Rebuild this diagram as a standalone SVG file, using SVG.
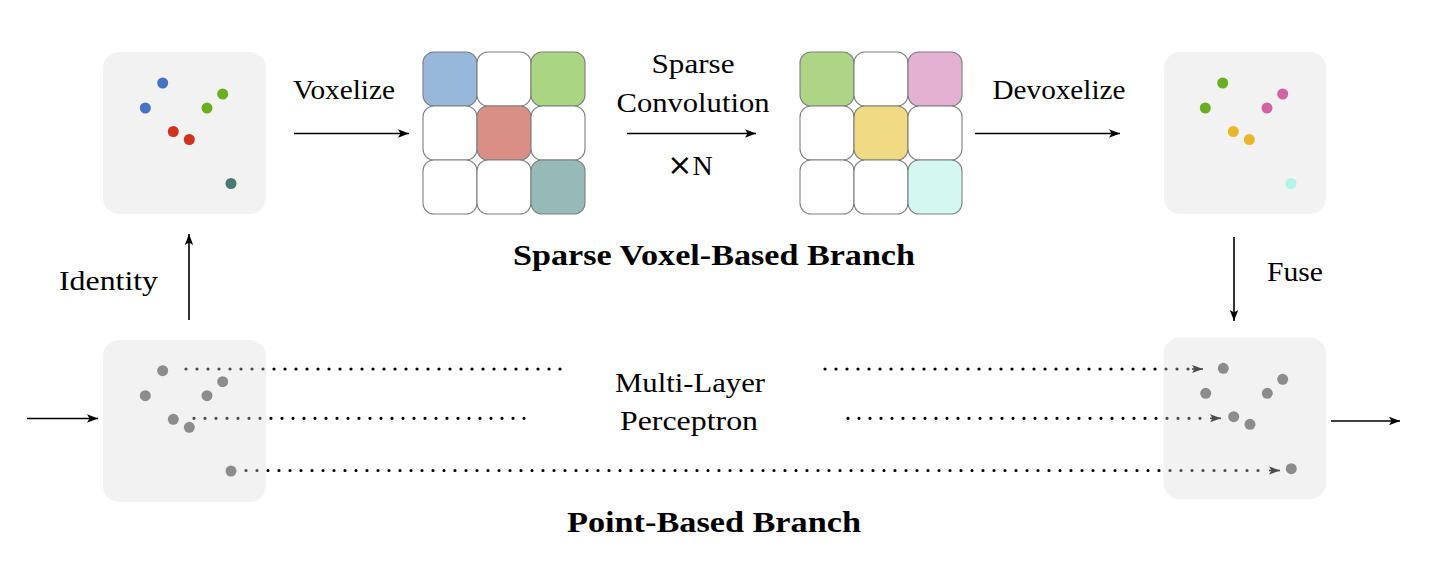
<svg xmlns="http://www.w3.org/2000/svg" width="1438" height="567" viewBox="0 0 1438 567">
<style>
.bg{fill:#ffffff}
.pbox{fill:#f2f2f2}
.obox{fill:#dadada;fill-opacity:0.35}
.cell{stroke:#7f7f7f;stroke-width:1.1}
.lbl{font-family:"Liberation Serif","DejaVu Serif",serif;font-size:28px;fill:#000;text-anchor:middle}
.ttl{font-family:"Liberation Serif","DejaVu Serif",serif;font-size:28.5px;font-weight:bold;fill:#000;text-anchor:middle}
.arr{stroke:#000;stroke-width:1.6;fill:none}
.dot{stroke:#000;stroke-width:3.2;stroke-linecap:round;stroke-dasharray:0 11;fill:none}
.gp{fill:#8c8c8c}
.times{font-family:"DejaVu Sans",sans-serif;font-size:30px}
</style>
<defs>
<marker id="ah" markerUnits="userSpaceOnUse" markerWidth="12" markerHeight="10" refX="11" refY="5" orient="auto">
<path d="M0,0.8 L11,5 L0,9.2 L2.5,5 Z" fill="#000"/>
</marker>
<marker id="ahs" markerUnits="userSpaceOnUse" markerWidth="12" markerHeight="10" refX="11" refY="5" orient="auto">
<path d="M0,1 L11,5 L0,9 L2.5,5 Z" fill="#000"/>
</marker>
</defs>
<rect class="bg" x="0" y="0" width="1438" height="567"/>

<g id="points-in">
<rect class="pbox" x="103" y="52" width="163" height="162" rx="16"/>
<circle cx="162.7" cy="83" r="5.5" fill="#4472c4"/>
<circle cx="145.3" cy="108" r="5.5" fill="#4472c4"/>
<circle cx="222.7" cy="94" r="5.5" fill="#6aaf22"/>
<circle cx="207" cy="108" r="5.5" fill="#6aaf22"/>
<circle cx="173.3" cy="131.5" r="5.5" fill="#d0321b"/>
<circle cx="189.3" cy="139.5" r="5.5" fill="#d0321b"/>
<circle cx="231" cy="183.5" r="5.5" fill="#467a72"/>
</g>

<g id="voxel-grid-in">
<rect class="cell" x="423" y="52" width="54" height="54" rx="11" fill="#98b8db"/>
<rect class="cell" x="477" y="52" width="54" height="54" rx="11" fill="#ffffff"/>
<rect class="cell" x="531" y="52" width="54" height="54" rx="11" fill="#aad684"/>
<rect class="cell" x="423" y="106" width="54" height="54" rx="11" fill="#ffffff"/>
<rect class="cell" x="477" y="106" width="54" height="54" rx="11" fill="#d98f85"/>
<rect class="cell" x="531" y="106" width="54" height="54" rx="11" fill="#ffffff"/>
<rect class="cell" x="423" y="160" width="54" height="54" rx="11" fill="#ffffff"/>
<rect class="cell" x="477" y="160" width="54" height="54" rx="11" fill="#ffffff"/>
<rect class="cell" x="531" y="160" width="54" height="54" rx="11" fill="#96bab7"/>
</g>

<g id="voxel-grid-out">
<rect class="cell" x="800" y="52" width="54" height="54" rx="11" fill="#acd685"/>
<rect class="cell" x="854" y="52" width="54" height="54" rx="11" fill="#ffffff"/>
<rect class="cell" x="908" y="52" width="54" height="54" rx="11" fill="#e3b1d2"/>
<rect class="cell" x="800" y="106" width="54" height="54" rx="11" fill="#ffffff"/>
<rect class="cell" x="854" y="106" width="54" height="54" rx="11" fill="#f0db84"/>
<rect class="cell" x="908" y="106" width="54" height="54" rx="11" fill="#ffffff"/>
<rect class="cell" x="800" y="160" width="54" height="54" rx="11" fill="#ffffff"/>
<rect class="cell" x="854" y="160" width="54" height="54" rx="11" fill="#ffffff"/>
<rect class="cell" x="908" y="160" width="54" height="54" rx="11" fill="#d2f8ef"/>
</g>

<g id="points-devox">
<rect class="pbox" x="1164" y="52" width="162" height="162" rx="16"/>
<circle cx="1222.7" cy="83" r="5.5" fill="#6aaf22"/>
<circle cx="1205.3" cy="108" r="5.5" fill="#6aaf22"/>
<circle cx="1282.7" cy="94" r="5.5" fill="#d163a3"/>
<circle cx="1267" cy="108" r="5.5" fill="#d163a3"/>
<circle cx="1233.3" cy="131.5" r="5.5" fill="#e8b72c"/>
<circle cx="1249.3" cy="139.5" r="5.5" fill="#e8b72c"/>
<circle cx="1291" cy="183.5" r="5.5" fill="#b0f5e6"/>
</g>

<g id="labels">
<text class="lbl" x="344" y="99" textLength="102" lengthAdjust="spacingAndGlyphs">Voxelize</text>
<text class="lbl" x="693" y="73" textLength="83" lengthAdjust="spacingAndGlyphs">Sparse</text>
<text class="lbl" x="693" y="112" textLength="153" lengthAdjust="spacingAndGlyphs">Convolution</text>
<text class="lbl" x="690" y="175"><tspan class="times">×</tspan>N</text>
<text class="lbl" x="1059" y="99" textLength="133" lengthAdjust="spacingAndGlyphs">Devoxelize</text>
<text class="ttl" x="714" y="265" textLength="402" lengthAdjust="spacingAndGlyphs">Sparse Voxel-Based Branch</text>
<text class="lbl" x="108.5" y="290" textLength="99" lengthAdjust="spacingAndGlyphs">Identity</text>
<text class="lbl" x="1295" y="281" textLength="56" lengthAdjust="spacingAndGlyphs">Fuse</text>
<text class="lbl" x="690" y="391.5" textLength="150" lengthAdjust="spacingAndGlyphs">Multi-Layer</text>
<text class="lbl" x="689" y="430" textLength="138" lengthAdjust="spacingAndGlyphs">Perceptron</text>
<text class="ttl" x="714" y="531.5" textLength="294" lengthAdjust="spacingAndGlyphs">Point-Based Branch</text>
</g>

<g id="connectors">
<line class="arr" x1="294" y1="133.5" x2="409" y2="133.5" marker-end="url(#ah)"/>
<line class="arr" x1="627" y1="133.5" x2="756" y2="133.5" marker-end="url(#ah)"/>
<line class="arr" x1="975" y1="133.5" x2="1120" y2="133.5" marker-end="url(#ah)"/>
<line class="arr" x1="189" y1="320" x2="189" y2="234" marker-end="url(#ah)"/>
<line class="arr" x1="1234" y1="237" x2="1234" y2="321" marker-end="url(#ah)"/>
<line class="arr" x1="27" y1="418.5" x2="98" y2="418.5" marker-end="url(#ah)"/>
<line class="arr" x1="1331" y1="421" x2="1400" y2="421" marker-end="url(#ah)"/>
<line class="dot" x1="186" y1="369" x2="562" y2="369"/>
<line class="dot" x1="194" y1="418.3" x2="527" y2="418.3"/>
<line class="dot" x1="825" y1="369" x2="1192" y2="369"/>
<line class="arr" x1="1192" y1="369" x2="1203" y2="369" stroke-width="1.4" marker-end="url(#ahs)"/>
<line class="dot" x1="848" y1="418.3" x2="1210" y2="418.3"/>
<line class="arr" x1="1210" y1="418.3" x2="1221" y2="418.3" stroke-width="1.4" marker-end="url(#ahs)"/>
<line class="dot" x1="246" y1="470.5" x2="1269" y2="470.5"/>
<line class="arr" x1="1269" y1="470.5" x2="1280" y2="470.5" stroke-width="1.4" marker-end="url(#ahs)"/>
</g>

<g id="points-mlp-in">
<rect class="obox" x="103" y="340" width="163" height="162" rx="16"/>
<circle class="gp" cx="162.7" cy="370.7" r="5.5"/>
<circle class="gp" cx="145.3" cy="395.7" r="5.5"/>
<circle class="gp" cx="222.7" cy="381.7" r="5.5"/>
<circle class="gp" cx="207" cy="395.7" r="5.5"/>
<circle class="gp" cx="173.3" cy="419.3" r="5.5"/>
<circle class="gp" cx="189.3" cy="427.3" r="5.5"/>
<circle class="gp" cx="231" cy="471" r="5.5"/>
</g>

<g id="points-out">
<rect class="obox" x="1163.5" y="337.5" width="162.5" height="161.5" rx="16"/>
<circle class="gp" cx="1223.3" cy="368.3" r="5.5"/>
<circle class="gp" cx="1205.7" cy="393.3" r="5.5"/>
<circle class="gp" cx="1282.7" cy="379.3" r="5.5"/>
<circle class="gp" cx="1267.3" cy="393.3" r="5.5"/>
<circle class="gp" cx="1233.7" cy="416.7" r="5.5"/>
<circle class="gp" cx="1250" cy="424.3" r="5.5"/>
<circle class="gp" cx="1291.3" cy="468.7" r="5.5"/>
</g>
</svg>
